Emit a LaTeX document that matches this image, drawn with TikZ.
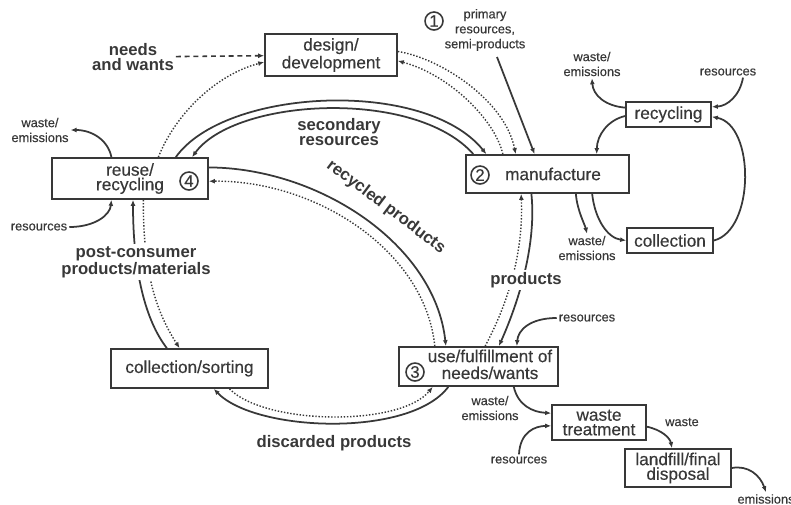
\documentclass[tikz,border=0pt]{standalone}
\usepackage{fontspec}
\setmainfont{Liberation Sans}
\newfontfamily\boxfont[FakeBold=0.4]{Liberation Sans}
\usetikzlibrary{arrows.meta,backgrounds}

\definecolor{ink}{gray}{0.22}

\tikzset{
  box/.style={draw=ink, line width=1pt, align=center, inner sep=1pt, font=\boxfont\fontsize{9.8}{8.3}\selectfont},
  num/.style={draw=ink, circle, line width=0.9pt, inner sep=0pt, minimum size=0.36cm, font=\boxfont\fontsize{9.5}{9}\selectfont},
  lbl/.style={align=center, inner sep=1pt, font=\fontsize{9.5}{8.5}\selectfont\bfseries},
  note/.style={align=center, inner sep=1pt, font=\boxfont\fontsize{7.3}{8.5}\selectfont},
  flow/.style={draw=ink, line width=1pt, ->},
  dots/.style={draw=ink, line width=0.8pt, dash pattern=on 0.8pt off 1pt, ->},
}

\begin{document}
\begin{tikzpicture}[x=0.02cm, y=-0.02cm, >={Latex[length=3.4pt,width=2.8pt]}, every node/.append style={text=ink}]
	\useasboundingbox (0,0) rectangle (791,504);
	% the main cycle
	\node[box, minimum width=2.64cm, minimum height=0.84cm] (design) at (331,55) {design/\\development};
	\node[box, minimum width=3.26cm, minimum height=0.76cm] (manu) at (547.5,174) {\hspace{0.22cm}manufacture};
	\node[box, minimum width=3.18cm, minimum height=0.78cm] (use) at (478.5,366.5) {\hspace{0.46cm}\begin{tabular}{@{}c@{}}use/fulfillment of\\needs/wants\end{tabular}};
	\node[box, minimum width=3.14cm, minimum height=0.78cm] (sorting) at (189.5,368.5) {collection/sorting};
	\node[box, minimum width=3.12cm, minimum height=0.82cm] (reuse) at (130,178.5) {reuse/\\recycling};
	% side boxes
	\node[box, minimum width=1.70cm, minimum height=0.50cm] (recyc) at (668.5,114.5) {recycling};
	\node[box, minimum width=1.72cm, minimum height=0.50cm] (coll) at (670,240.5) {collection};
	\node[box, minimum width=1.88cm, minimum height=0.70cm] (treat) at (599,422.5) {waste\\treatment};
	\node[box, minimum width=2.12cm, minimum height=0.76cm] (landfill) at (678,468) {landfill/final\\disposal};
	% numbers
	\node[num] (n1) at (434,21) {1};
	\node[num] (n2) at (480,175) {2};
	\node[num] (n3) at (415,372) {3};
	\node[num] (n4) at (189,181) {4};
	% labels
	\node[lbl] (needs) at (133,57) {needs\\and wants};
	\node[note] (prim) at (485,30) {primary\\resources,\\semi-products};
	\node[note] (wasteA) at (592,64) {waste/\\emissions};
	\node[note] (resA) at (728,72) {resources};
	\node[note] (wasteB) at (587,248) {waste/\\emissions};
	\node[note] (wasteC) at (40,130) {waste/\\emissions};
	\node[note] (resC) at (39,227) {resources};
	\node[lbl] (secres) at (339,132) {secondary\\resources};
	\node[lbl, rotate=-37] (recprod) at (386,207) {recycled products};
	\node[lbl, fill=white] (prodlbl) at (526,280) {products};
	\node[lbl, fill=white] (postcons) at (136,262) {post-consumer\\products/materials};
	\node[lbl] (discprod) at (334,443) {discarded products};
	\node[note] (resD) at (587,318) {resources};
	\node[note] (wasteD) at (490,408) {waste/\\emissions};
	\node[note] (resE) at (519,460) {resources};
	\node[note] (wastelbl) at (682,422) {waste};
	\node[note] (emis) at (766,499) {emissions};

	\begin{scope}[on background layer]
		% information flows
		\draw[->, draw=ink, line width=0.9pt, dash pattern=on 2.8pt off 2.2pt] (needs) -- (design);
		\draw[dots] (reuse.37) .. controls (175,115) and (215,75) .. (design.186);
		\draw[dots] (design.3) .. controls (440,58) and (505,100) .. (manu.148);
		\draw[dots] (manu.156) .. controls (495,120) and (450,75) .. (design.-5);
		\draw[flow] ([xshift=0.24cm,yshift=-0.08cm]prim.south) -- (manu.123);
		% secondary resources
		\draw[flow] (reuse.25) .. controls (225,88) and (425,78) .. (manu.162);
		\draw[flow] (manu.165) .. controls (415,88) and (235,98) .. (reuse.19);
		% recycled products
		\draw[flow] (reuse.8) .. controls (320,168) and (435,245) .. (use.148);
		\draw[dots] (use.155) .. controls (425,250) and (315,180) .. (reuse.-2);
		% products
		\draw[flow] (manu.-129) .. controls (537,250) and (515,310) .. (use.45);
		\draw[dots] (use.72) .. controls (515,290) and (523,240) .. (manu.-143);
		% discarded products
		\draw[flow] (use.-146) .. controls (410,438) and (255,432) .. (sorting.-40);
		\draw[dots] (sorting.-27) .. controls (265,425) and (400,427) .. (use.-156);
		% post-consumer
		\draw[flow] (sorting.138) .. controls (145,320) and (133,270) .. (reuse.-82);
		\draw[dots] (reuse.-58) .. controls (143,270) and (155,310) .. (sorting.116);
		% manufacture loop
		\draw[flow] (manu.-35) .. controls (577,210) and (585,225) .. (wasteB.north);
		\draw[flow] (manu.-24) .. controls (595,220) and (608,238) .. (coll.west);
		\draw[flow] (coll.east) .. controls (755,230) and (755,125) .. (recyc.-3);
		\draw[flow] ([xshift=0.3cm]resA.south) .. controls (740,95) and (728,106) .. (recyc.10);
		\draw[flow] (recyc.171) .. controls (605,106) and (593,95) .. (wasteA.south);
		\draw[flow] (recyc.182) .. controls (608,120) and (597,135) .. (manu.22);
		% reuse inputs and outputs
		\draw[flow] (reuse.131) .. controls (108,140) and (92,130) .. (wasteC.east);
		\draw[flow] (resC.east) .. controls (95,227) and (110,215) .. (reuse.-131);
		% use and disposal
		\draw[flow] (resD.west) .. controls (530,318) and (518,330) .. (use.28);
		\draw[flow] (use.-30) .. controls (518,405) and (532,412) .. (treat.169);
		\draw[flow] (resE.north) .. controls (520,432) and (535,426) .. (treat.184);
		\draw[flow] (treat.-5) .. controls (662,430) and (670,438) .. (landfill.107);
		\draw[flow] (landfill.east) .. controls (748,465) and (760,475) .. (emis.north);
	\end{scope}
\end{tikzpicture}
\end{document}
